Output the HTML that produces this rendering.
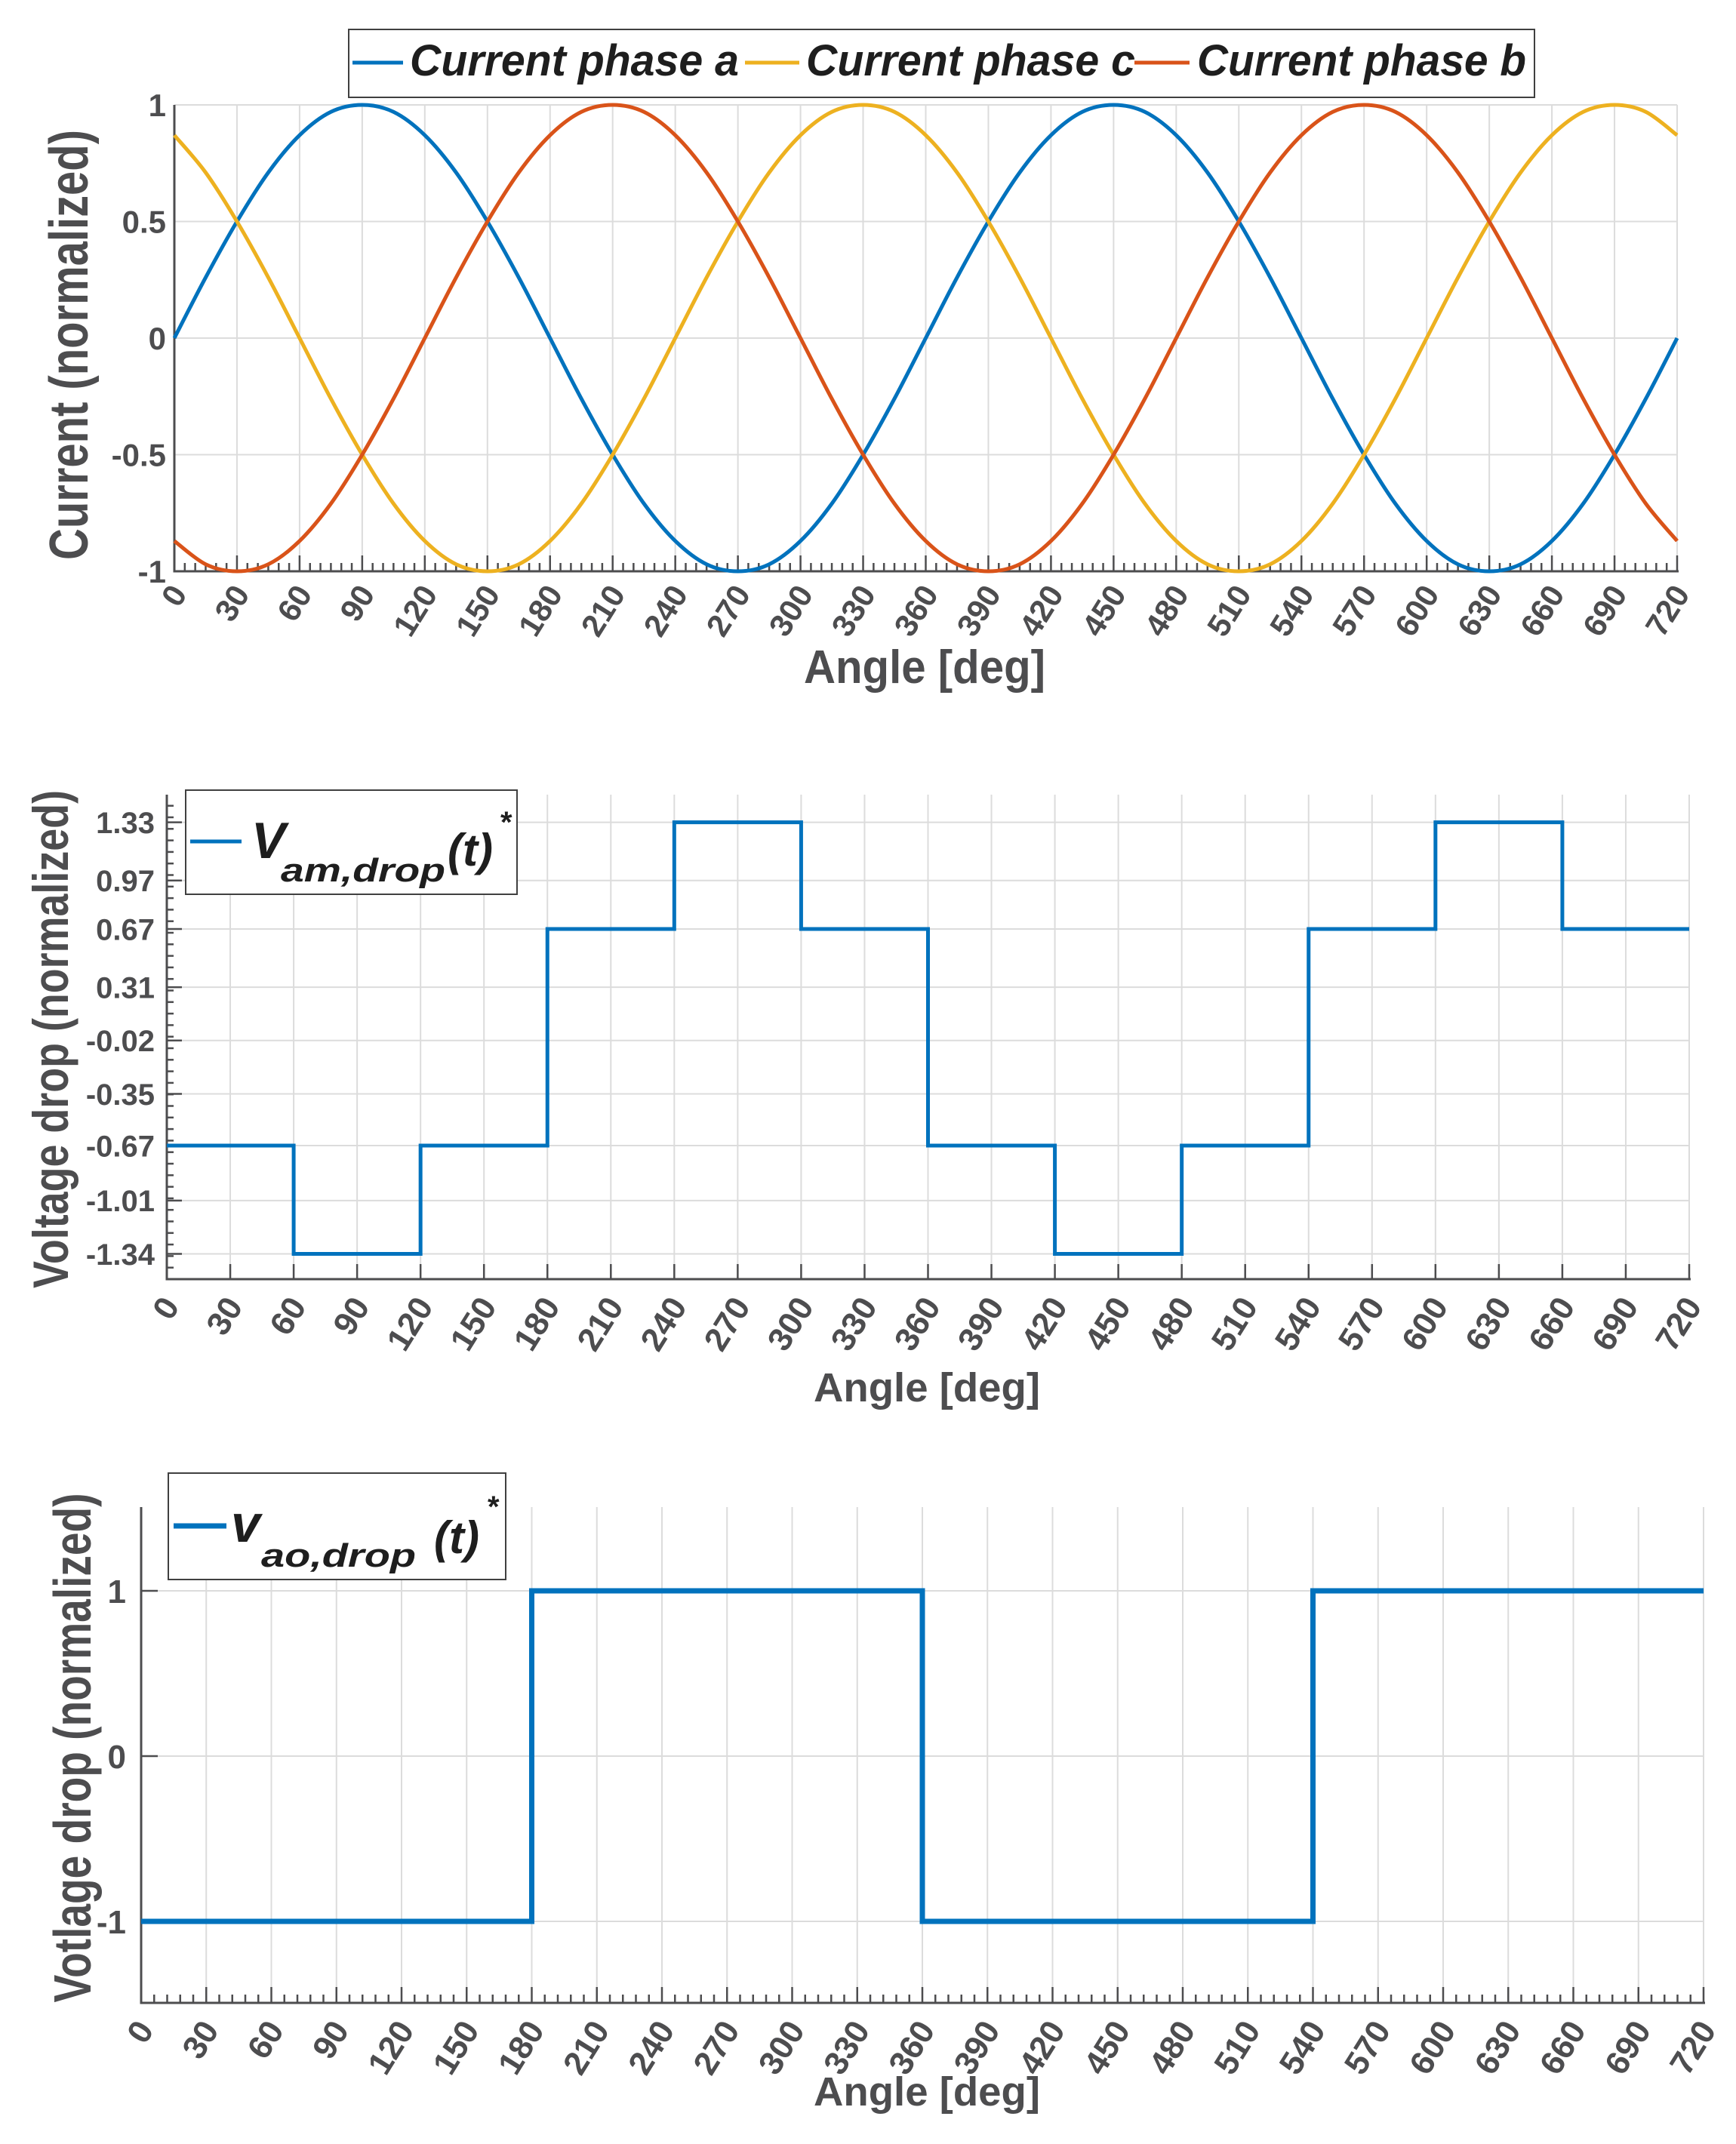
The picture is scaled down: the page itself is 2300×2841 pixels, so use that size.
<!DOCTYPE html>
<html><head><meta charset="utf-8"><style>
html,body{margin:0;padding:0;background:#fff;}
svg{display:block;}
.cond{font-family:"Liberation Sans Narrow","Liberation Sans",sans-serif;font-weight:bold;}
.ar{font-family:"Liberation Sans",sans-serif;font-weight:bold;}
</style></head><body>
<svg id="fig" width="2300" height="2841" viewBox="0 0 2300 2841" xmlns="http://www.w3.org/2000/svg"></svg>
<script>
// ---- data ----
const angleTicks = [0,30,60,90,120,150,180,210,240,270,300,330,360,390,420,450,480,510,540,570,600,630,660,690,720];
const sampleAngles = [0,15,30,45,60,75,90,105,120,135,150,165,180,195,210,225,240,255,270,285,300,315,330,345,360,375,390,405,420,435,450,465,480,495,510,525,540,555,570,585,600,615,630,645,660,675,690,705,720];
const phaseA = [0,.26,.5,.71,.87,.97,1,.97,.87,.71,.5,.26,0,-.26,-.5,-.71,-.87,-.97,-1,-.97,-.87,-.71,-.5,-.26,0,.26,.5,.71,.87,.97,1,.97,.87,.71,.5,.26,0,-.26,-.5,-.71,-.87,-.97,-1,-.97,-.87,-.71,-.5,-.26,0];
const phaseC = [.87,.71,.5,.26,0,-.26,-.5,-.71,-.87,-.97,-1,-.97,-.87,-.71,-.5,-.26,0,.26,.5,.71,.87,.97,1,.97,.87,.71,.5,.26,0,-.26,-.5,-.71,-.87,-.97,-1,-.97,-.87,-.71,-.5,-.26,0,.26,.5,.71,.87,.97,1,.97,.87];
const phaseB = [-.87,-.97,-1,-.97,-.87,-.71,-.5,-.26,0,.26,.5,.71,.87,.97,1,.97,.87,.71,.5,.26,0,-.26,-.5,-.71,-.87,-.97,-1,-.97,-.87,-.71,-.5,-.26,0,.26,.5,.71,.87,.97,1,.97,.87,.71,.5,.26,0,-.26,-.5,-.71,-.87];
const yTicks1 = [1,0.5,0,-0.5,-1];
const yTickLabels1 = ["1","0.5","0","-0.5","-1"];
const amEdges = [0,60,120,180,240,300,360,420,480,540,600,660,720];
const amLevels = [-0.67,-1.34,-0.67,0.67,1.33,0.67,-0.67,-1.34,-0.67,0.67,1.33,0.67];
const yTicks2 = [1.33,0.97,0.67,0.31,-0.02,-0.35,-0.67,-1.01,-1.34];
const yTickLabels2 = ["1.33","0.97","0.67","0.31","-0.02","-0.35","-0.67","-1.01","-1.34"];
const aoEdges = [0,180,360,540,720];
const aoLevels = [-1,1,-1,1];
const yTicks3 = [1,0,-1];
const yTickLabels3 = ["1","0","-1"];

const NS="http://www.w3.org/2000/svg";
const svg=document.getElementById('fig');
function mk(tag,attrs,parent,text){const e=document.createElementNS(NS,tag);for(const k in attrs)e.setAttribute(k,attrs[k]);if(text!==undefined)e.textContent=text;(parent||svg).appendChild(e);return e;}
const AX='#4d4d4f', GRID='#dcdcdc';

function axes(cfg){
  const g=mk('g',{});
  
  
  const X=a=>cfg.x0+(a-0)/(720)*(cfg.x1-cfg.x0);
  const Y=v=>cfg.yz-(v)*cfg.ys;
  angleTicks.forEach(a=>{const l=mk('line',{x1:X(a),x2:X(a),y1:cfg.top,y2:cfg.bot,stroke:GRID,'stroke-width':2},g);
    });
  cfg.yt.forEach(v=>{const l=mk('line',{x1:cfg.x0,x2:cfg.x1,y1:Y(v),y2:Y(v),stroke:GRID,'stroke-width':2},g);
    });
  const xa=mk('line',{x1:cfg.x0,x2:cfg.x1+2,y1:cfg.bot,y2:cfg.bot,stroke:AX,'stroke-width':3},g);
  
  const ya=mk('line',{x1:cfg.x0,x2:cfg.x0,y1:cfg.top,y2:cfg.bot+1.5,stroke:AX,'stroke-width':3},g);
  
  if(cfg.xminor){for(let a=0;a<=720;a+=cfg.xminor){const maj=a%30===0;mk('line',{x1:X(a),x2:X(a),y1:cfg.bot,y2:cfg.bot-(maj?21:11),stroke:AX,'stroke-width':2.5},g);}}
  else angleTicks.forEach(a=>mk('line',{x1:X(a),x2:X(a),y1:cfg.bot,y2:cfg.bot-20,stroke:AX,'stroke-width':2.5},g));
  if(cfg.ytickLen){cfg.yt.forEach(v=>mk('line',{x1:cfg.x0,x2:cfg.x0+cfg.ytickLen,y1:Y(v),y2:Y(v),stroke:AX,'stroke-width':2.5},g));}
  if(cfg.yminor){for(let y=cfg.bot-cfg.yminor;y>cfg.top;y-=cfg.yminor){mk('line',{x1:cfg.x0,x2:cfg.x0+9,y1:y,y2:y,stroke:AX,'stroke-width':2.5},g);}
    cfg.yt.forEach(v=>mk('line',{x1:cfg.x0,x2:cfg.x0+20,y1:Y(v),y2:Y(v),stroke:AX,'stroke-width':2.5},g));}
  angleTicks.forEach(a=>{const tx=X(a)+cfg.xlDx,ty=cfg.bot+cfg.xlDy;
    const t=mk('text',{x:tx,y:ty,'text-anchor':'end',class:cfg.font,'font-size':cfg.xfs,fill:AX,transform:`rotate(-58 ${tx} ${ty})`},g,String(a));
    });
  cfg.yt.forEach((v,i)=>{const t=mk('text',{x:cfg.ylx,y:Y(v)+cfg.yfs*0.36,'text-anchor':'end',class:cfg.font,'font-size':cfg.yfs,fill:AX},g,cfg.ytl[i]);
    });
  const xt=mk('text',{x:cfg.xtx,y:cfg.xty,'text-anchor':'middle',class:cfg.font,'font-size':cfg.xtfs,fill:AX,textLength:cfg.xtlen,lengthAdjust:'spacingAndGlyphs'},g,'Angle [deg]');
  
  const yt=mk('text',{x:cfg.ytx,y:cfg.yty,'text-anchor':'middle',class:'ar','font-size':cfg.ytfs,fill:AX,textLength:cfg.ytlen,lengthAdjust:'spacingAndGlyphs',transform:`rotate(-90 ${cfg.ytx} ${cfg.yty})`},g,cfg.ytitle);
  
  return {g,X,Y};
}

function smoothPath(X,Y,xs,ys){
  const P=xs.map((a,i)=>[X(a),Y(ys[i])]);
  let d=`M${P[0][0]},${P[0][1]}`;
  for(let i=0;i<P.length-1;i++){const p0=P[Math.max(0,i-1)],p1=P[i],p2=P[i+1],p3=P[Math.min(P.length-1,i+2)];
    const c1=[p1[0]+(p2[0]-p0[0])/6,p1[1]+(p2[1]-p0[1])/6],c2=[p2[0]-(p3[0]-p1[0])/6,p2[1]-(p3[1]-p1[1])/6];
    d+=` C${c1[0]},${c1[1]} ${c2[0]},${c2[1]} ${p2[0]},${p2[1]}`;}
  return d;
}
function stepPath(X,Y,edges,levels){
  let d=`M${X(edges[0])},${Y(levels[0])}`;
  levels.forEach((v,i)=>{d+=` L${X(edges[i+1])},${Y(v)}`;if(i+1<levels.length)d+=` L${X(edges[i+1])},${Y(levels[i+1])}`;});
  return d;
}

// ---- Chart 1 ----
const c1=axes({name:'current-chart',x0:231,x1:2222,top:139,bot:757,yz:448,ys:309,yt:yTicks1,ytl:yTickLabels1,
  xminor:5,font:'cond',xfs:42,xlDx:18,xlDy:30,yfs:42,ylx:220,
  xtx:1225,xty:905,xtfs:62,xtlen:320,ytitle:'Current (normalized)',ytx:116,yty:457,ytfs:72,ytlen:570});
[[phaseA,'#0072BD','phase-a-line'],[phaseC,'#EDB120','phase-c-line'],[phaseB,'#D95319','phase-b-line']].forEach(([arr,col,nm])=>{
  const p=mk('path',{d:smoothPath(c1.X,c1.Y,sampleAngles,arr),fill:'none',stroke:col,'stroke-width':5},c1.g);
  });
const lg1=mk('g',{});

mk('rect',{x:462,y:39,width:1571,height:90,fill:'#fff',stroke:'#404040','stroke-width':2},lg1);
[[467,534,543,'#0072BD','Current phase a'],[987,1059,1068,'#EDB120','Current phase c'],[1503,1576,1586,'#D95319','Current phase b']].forEach(([l1,l2,tx,col,lab])=>{
  const e=mk('g',{},lg1);
  mk('line',{x1:l1,x2:l2,y1:83,y2:83,stroke:col,'stroke-width':5},e);
  mk('text',{x:tx,y:100,class:'cond','font-style':'italic','font-size':58,fill:'#1e1e1e',textLength:436,lengthAdjust:'spacingAndGlyphs'},e,lab);
});

// ---- Chart 2 ----
const c2=axes({name:'vam-chart',x0:221,x1:2238,top:1053,bot:1695,yz:1374.5,ys:214.2,yt:yTicks2,ytl:yTickLabels2,
  yminor:15.3,font:'ar',xfs:44,xlDx:18,xlDy:36,yfs:40,ylx:205,
  xtx:1228,xty:1857,xtfs:54,xtlen:300,ytitle:'Voltage drop (normalized)',ytx:90,yty:1377,ytfs:66,ytlen:660});
const p2=mk('path',{d:stepPath(c2.X,c2.Y,amEdges,amLevels),fill:'none',stroke:'#0072BD','stroke-width':5},c2.g);

const lg2=mk('g',{});

mk('rect',{x:246,y:1047,width:439,height:138,fill:'#fff',stroke:'#404040','stroke-width':2},lg2);
mk('line',{x1:252,x2:320,y1:1115,y2:1115,stroke:'#0072BD','stroke-width':5},lg2);
mk('text',{x:333,y:1137,class:'ar','font-style':'italic','font-size':68,fill:'#1e1e1e'},lg2,'V');
mk('text',{x:372,y:1168,class:'ar','font-style':'italic','font-size':44,fill:'#1e1e1e',textLength:218,lengthAdjust:'spacingAndGlyphs'},lg2,'am,drop');
mk('text',{x:593,y:1147,class:'ar','font-style':'italic','font-size':60,fill:'#1e1e1e'},lg2,'(t)');
mk('text',{x:663,y:1103,class:'ar','font-size':40,fill:'#1e1e1e'},lg2,'*');

// ---- Chart 3 ----
const c3=axes({name:'vao-chart',x0:187,x1:2257,top:1997,bot:2654,yz:2327,ys:219,yt:yTicks3,ytl:yTickLabels3,
  xminor:6,ytickLen:22,font:'ar',xfs:44,xlDx:18,xlDy:36,yfs:44,ylx:167,
  xtx:1228,xty:2790,xtfs:54,xtlen:300,ytitle:'Votlage drop (normalized)',ytx:120,yty:2316,ytfs:70,ytlen:675});
const p3=mk('path',{d:stepPath(c3.X,c3.Y,aoEdges,aoLevels),fill:'none',stroke:'#0072BD','stroke-width':7},c3.g);

const lg3=mk('g',{});

mk('rect',{x:223,y:1952,width:447,height:141,fill:'#fff',stroke:'#404040','stroke-width':2},lg3);
mk('line',{x1:230,x2:300,y1:2022,y2:2022,stroke:'#0072BD','stroke-width':7},lg3);
mk('text',{x:306,y:2043,class:'ar','font-style':'italic','font-size':70,fill:'#1e1e1e'},lg3,'v');
mk('text',{x:346,y:2076,class:'ar','font-style':'italic','font-size':44,fill:'#1e1e1e',textLength:205,lengthAdjust:'spacingAndGlyphs'},lg3,'ao,drop');
mk('text',{x:575,y:2058,class:'ar','font-style':'italic','font-size':60,fill:'#1e1e1e'},lg3,'(t)');
mk('text',{x:646,y:2010,class:'ar','font-size':40,fill:'#1e1e1e'},lg3,'*');
</script>
</body></html>
